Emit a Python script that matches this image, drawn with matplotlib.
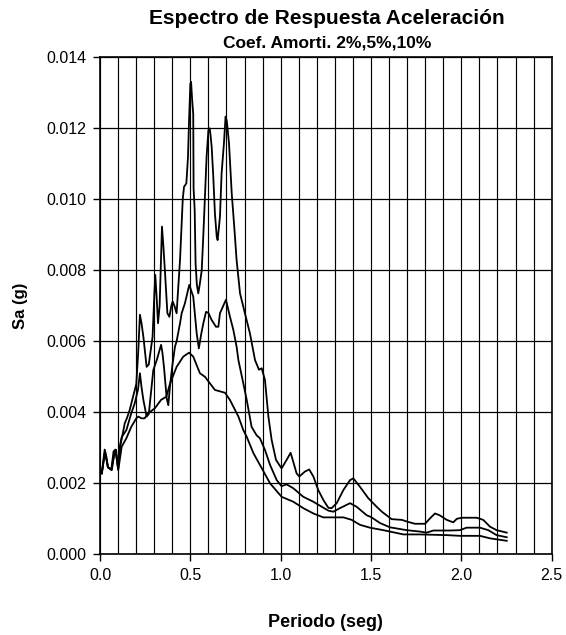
import numpy as np
import matplotlib
matplotlib.use('Agg')
import matplotlib.pyplot as plt

plt.rcParams['font.family'] = ['Liberation Sans', 'DejaVu Sans']

# periodo (seg) y Sa (g) para amortiguamiento 2%
t_2 = [0.01, 0.026, 0.035, 0.044, 0.063, 0.075, 0.085, 0.10, 0.11, 0.124, 0.137, 0.150, 0.164,
       0.183, 0.201, 0.212, 0.221, 0.230, 0.240, 0.258, 0.270, 0.291, 0.301, 0.306, 0.314, 0.321,
       0.330, 0.343, 0.351, 0.360, 0.373, 0.384, 0.395, 0.402, 0.412, 0.424, 0.443, 0.452, 0.458,
       0.465, 0.478, 0.487, 0.493, 0.500, 0.504, 0.510, 0.516, 0.518, 0.524, 0.529, 0.536, 0.544,
       0.552, 0.563, 0.572, 0.581, 0.590, 0.600, 0.607, 0.612, 0.618, 0.627, 0.636, 0.646, 0.651,
       0.658, 0.664, 0.673, 0.686, 0.695, 0.702, 0.714, 0.729, 0.743, 0.756, 0.775, 0.802, 0.830,
       0.858, 0.880, 0.895, 0.913, 0.932, 0.950, 0.974, 1.005, 1.033, 1.055, 1.070, 1.088, 1.103,
       1.134, 1.158, 1.181, 1.208, 1.236, 1.264, 1.282, 1.310, 1.347, 1.384, 1.402, 1.439, 1.485,
       1.531, 1.560, 1.614, 1.670, 1.700, 1.743, 1.799, 1.826, 1.854, 1.880, 1.919, 1.955, 1.975,
       2.002, 2.085, 2.121, 2.158, 2.195, 2.251]
sa_2 = [0.00228, 0.00295, 0.00275, 0.00245, 0.00240, 0.00290, 0.00295, 0.00245, 0.00300, 0.00335,
        0.00369, 0.00385, 0.00406, 0.00444, 0.00480, 0.00575, 0.00675, 0.00650, 0.00613, 0.00528,
        0.00535, 0.00613, 0.00735, 0.00787, 0.00720, 0.00651, 0.00700, 0.00923, 0.00866, 0.00792,
        0.00679, 0.00669, 0.00700, 0.00712, 0.00700, 0.00679, 0.00830, 0.00932, 0.01000, 0.01035,
        0.01045, 0.01120, 0.01223, 0.01325, 0.01331, 0.01280, 0.01240, 0.01030, 0.00970, 0.00820,
        0.00760, 0.00735, 0.00760, 0.00800, 0.00900, 0.01010, 0.01120, 0.01195, 0.01200, 0.01180,
        0.01148, 0.01064, 0.00960, 0.00895, 0.00885, 0.00920, 0.00951, 0.01073, 0.01158, 0.01233,
        0.01220, 0.01158, 0.01017, 0.00923, 0.00829, 0.00735, 0.00679, 0.00622, 0.00547, 0.00520,
        0.00524, 0.00491, 0.00388, 0.00322, 0.00266, 0.00242, 0.00266, 0.00286, 0.00260, 0.00228,
        0.00219, 0.00233, 0.00239, 0.00219, 0.00181, 0.00153, 0.00131, 0.00130, 0.00144, 0.00181,
        0.00209, 0.00214, 0.00190, 0.00158, 0.00134, 0.00120, 0.00099, 0.00097, 0.00092, 0.00086,
        0.00086, 0.00101, 0.00115, 0.00110, 0.00097, 0.00090, 0.00100, 0.00103, 0.00103, 0.00097,
        0.00078, 0.00068, 0.00061]

# amortiguamiento 5%
t_5 = [0.01, 0.026, 0.035, 0.044, 0.063, 0.080, 0.090, 0.10, 0.112, 0.120, 0.146, 0.173, 0.192,
       0.210, 0.221, 0.230, 0.240, 0.258, 0.270, 0.295, 0.314, 0.338, 0.345, 0.354, 0.369, 0.378,
       0.387, 0.400, 0.415, 0.424, 0.443, 0.452, 0.470, 0.494, 0.516, 0.535, 0.547, 0.560, 0.572,
       0.587, 0.600, 0.618, 0.642, 0.655, 0.664, 0.697, 0.719, 0.738, 0.756, 0.766, 0.793, 0.812,
       0.839, 0.867, 0.885, 0.913, 0.941, 0.978, 1.005, 1.033, 1.070, 1.125, 1.181, 1.227, 1.264,
       1.291, 1.328, 1.384, 1.420, 1.476, 1.500, 1.550, 1.605, 1.697, 1.771, 1.808, 1.845, 1.937,
       1.992, 2.029, 2.103, 2.149, 2.195, 2.251]
sa_5 = [0.00228, 0.00285, 0.00270, 0.00245, 0.00238, 0.00285, 0.00280, 0.00240, 0.00310, 0.00330,
        0.00350, 0.00397, 0.00425, 0.00463, 0.00510, 0.00470, 0.00435, 0.00388, 0.00395, 0.00519,
        0.00547, 0.00590, 0.00570, 0.00528, 0.00440, 0.00420, 0.00472, 0.00530, 0.00585, 0.00600,
        0.00651, 0.00679, 0.00707, 0.00759, 0.00726, 0.00623, 0.00580, 0.00620, 0.00651, 0.00683,
        0.00680, 0.00660, 0.00641, 0.00641, 0.00679, 0.00717, 0.00670, 0.00632, 0.00585, 0.00547,
        0.00482, 0.00435, 0.00359, 0.00335, 0.00327, 0.00294, 0.00252, 0.00209, 0.00192, 0.00197,
        0.00186, 0.00162, 0.00148, 0.00134, 0.00123, 0.00120, 0.00130, 0.00144, 0.00134, 0.00110,
        0.00105, 0.00088, 0.00076, 0.00068, 0.00064, 0.00061, 0.00067, 0.00067, 0.00068, 0.00075,
        0.00075, 0.00068, 0.00054, 0.00048]

# amortiguamiento 10%
t_10 = [0.01, 0.028, 0.044, 0.065, 0.081, 0.089, 0.101, 0.120, 0.146, 0.173, 0.201, 0.212, 0.230,
        0.247, 0.266, 0.303, 0.338, 0.367, 0.387, 0.424, 0.461, 0.493, 0.516, 0.553, 0.581, 0.636,
        0.692, 0.719, 0.766, 0.793, 0.812, 0.849, 0.885, 0.941, 1.005, 1.070, 1.125, 1.181, 1.236,
        1.347, 1.393, 1.439, 1.494, 1.568, 1.679, 1.771, 1.919, 1.992, 2.103, 2.158, 2.251]
sa_10 = [0.00228, 0.00289, 0.00245, 0.00237, 0.00289, 0.00294, 0.00237, 0.00303, 0.00327, 0.00359,
         0.00383, 0.00388, 0.00383, 0.00383, 0.00397, 0.00411, 0.00435, 0.00444, 0.00480, 0.00528,
         0.00557, 0.00568, 0.00557, 0.00510, 0.00500, 0.00463, 0.00455, 0.00435, 0.00388, 0.00350,
         0.00331, 0.00285, 0.00252, 0.00200, 0.00162, 0.00148, 0.00130, 0.00115, 0.00104, 0.00104,
         0.00097, 0.00083, 0.00075, 0.00068, 0.00056, 0.00056, 0.00054, 0.00052, 0.00052, 0.00045,
         0.00038]

x_ticks = [0.0, 0.5, 1.0, 1.5, 2.0, 2.5]
y_ticks = [0.000, 0.002, 0.004, 0.006, 0.008, 0.010, 0.012, 0.014]

fig = plt.figure(figsize=(5.66, 6.35), dpi=100)
ax = fig.add_axes([100/566, 1-554.3/635, 451.7/566, 497/635])

ax.plot(t_2, sa_2, color='black', lw=1.3)
ax.plot(t_5, sa_5, color='black', lw=1.3)
ax.plot(t_10, sa_10, color='black', lw=1.3)

ax.set_xlim(0, 2.5)
ax.set_ylim(0, 0.014)
ax.set_xticks(x_ticks)
ax.set_xticklabels(['%.1f' % v for v in x_ticks], fontsize=11.5)
ax.set_yticks(y_ticks)
ax.set_yticklabels(['%.3f' % v for v in y_ticks], fontsize=11.5)
ax.set_xticks(np.arange(0, 2.51, 0.1), minor=True)
ax.tick_params(which='minor', length=0)
ax.tick_params(which='major', length=5, width=1, direction='out', color='black', pad=5)
ax.grid(True, which='both', axis='x', color='black', lw=0.85)
ax.grid(True, which='major', axis='y', color='black', lw=0.9)
for s in ax.spines.values():
    s.set_linewidth(1.2)

ax.set_xlabel('Periodo (seg)', fontsize=13, fontweight='bold', labelpad=22)
ax.set_ylabel('Sa (g)', fontsize=12, fontweight='bold', labelpad=13)

fig.text(0.578, 1-18/635, 'Espectro de Respuesta Aceleración', ha='center', va='center',
         fontsize=15, fontweight='bold')
fig.text(0.578, 1-43/635, 'Coef. Amorti. 2%,5%,10%', ha='center', va='center',
         fontsize=12.5, fontweight='bold')

fig.savefig('out.png', dpi=100)
